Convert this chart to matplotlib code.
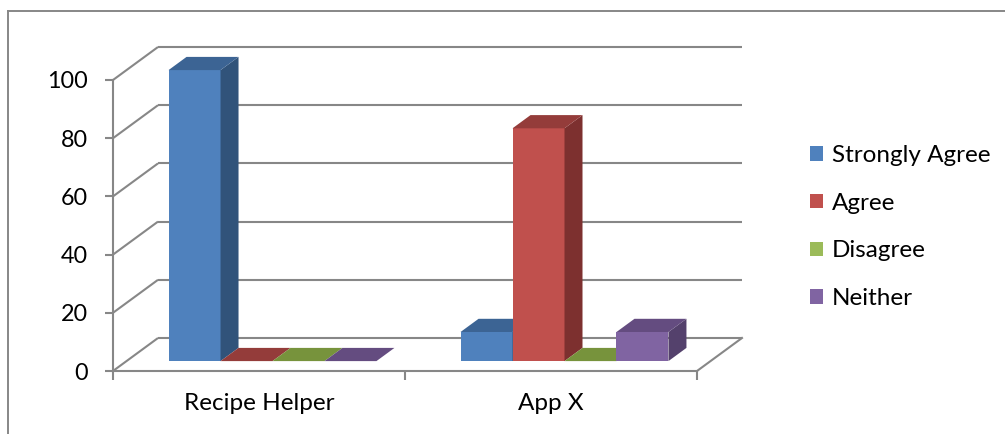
import matplotlib
matplotlib.use("Agg")
import matplotlib.pyplot as plt
from matplotlib.patches import Polygon, Patch
from matplotlib.lines import Line2D

categories = ["Recipe Helper", "App X"]
series = ["Strongly Agree", "Agree", "Disagree", "Neither"]
strongly_agree = [100, 10]
agree = [0, 80]
disagree = [0, 0]
neither = [0, 10]
values = [strongly_agree, agree, disagree, neither]
yticks = [0, 20, 40, 60, 80, 100]

# front / top / side shades per series
FRONT = ["#4F81BD", "#C0504D", "#9BBB59", "#8064A2"]
TOP = ["#3C6494", "#943C3A", "#77933C", "#644C80"]
SIDE = ["#31537A", "#7D302F", "#617A30", "#54416C"]
GRID = "#878787"

plt.rcParams["font.family"] = ["Lato", "DejaVu Sans"]
W, H = 1005, 434
fig = plt.figure(figsize=(W / 100, H / 100), dpi=100)
fig.patch.set_facecolor("white")
# front plane of the plot box, in pixels: x 113..697, y 371 (0) .. 80 (100)
ax = fig.add_axes([113 / W, (H - 371) / H, (697 - 113) / W, (371 - 80) / H])
ax.set_xlim(0, len(categories))
ax.set_ylim(0, 100)
ax.set_facecolor("none")

# oblique depth vector in data units (45 px right, 33 px up)
DX = 45 / 292
DY = 33 / 2.91
BW = 0.178          # bar width in category units
D0, D1 = 0.30, 0.70  # bar depth span, fraction of floor depth

def box(x0, h, i, z):
    fx, fy = D0 * DX, D0 * DY
    bx, by = D1 * DX, D1 * DY
    x1 = x0 + BW
    if h > 0:
        ax.add_patch(Polygon([(x0 + fx, fy), (x1 + fx, fy), (x1 + fx, h + fy), (x0 + fx, h + fy)],
                             closed=True, facecolor=FRONT[i], edgecolor="none", zorder=z, clip_on=False))
        ax.add_patch(Polygon([(x1 + fx, fy), (x1 + bx, by), (x1 + bx, h + by), (x1 + fx, h + fy)],
                             closed=True, facecolor=SIDE[i], edgecolor="none", zorder=z, clip_on=False))
    ax.add_patch(Polygon([(x0 + fx, h + fy), (x1 + fx, h + fy), (x1 + bx, h + by), (x0 + bx, h + by)],
                         closed=True, facecolor=TOP[i], edgecolor="none", zorder=z, clip_on=False))

# walls: left-wall diagonals, back-wall gridlines, floor edge
n = len(categories)
for v in yticks:
    ax.plot([0, DX], [v, v + DY], color=GRID, lw=1.5, zorder=1, clip_on=False, solid_capstyle="butt")
    ax.plot([DX, n + DX], [v + DY, v + DY], color=GRID, lw=1.5, zorder=1, clip_on=False, solid_capstyle="butt")
ax.plot([n, n + DX], [0, DY], color=GRID, lw=1.5, zorder=1, clip_on=False)

z = 3
for c in range(n):
    left = c + 0.5 - BW * len(series) / 2
    for i in range(len(series)):
        box(left + i * BW, values[i][c], i, z)
        z += 1

for s in ["top", "right"]:
    ax.spines[s].set_visible(False)
for s in ["left", "bottom"]:
    ax.spines[s].set_color(GRID)
    ax.spines[s].set_linewidth(1.5)
    ax.spines[s].set_zorder(2)

ax.set_yticks(yticks)
ax.tick_params(axis="y", length=5.8, width=1.5, color=GRID, labelsize=16.8, pad=12)
ax.set_xticks(range(n + 1))
ax.set_xticklabels([])
ax.set_xticks([c + 0.5 for c in range(n)], minor=True)
ax.set_xticklabels(categories, minor=True)
ax.tick_params(axis="x", which="major", length=6.5, width=1.5, color=GRID)
ax.tick_params(axis="x", which="minor", length=0, labelsize=17.5, pad=16)

handles = [Patch(facecolor=FRONT[i], edgecolor="none", label=series[i]) for i in range(len(series))]
fig.legend(handles=handles, loc="upper left", bbox_to_anchor=(810 / W, 1 - 145 / H), frameon=False,
           fontsize=17.5, handlelength=0.54, handleheight=0.54, handletextpad=0.37, labelspacing=1.1,
           borderpad=0, borderaxespad=0)

# chart-area border (top and left edges)
fig.add_artist(Line2D([8 / W, 1], [1 - 10.5 / H, 1 - 10.5 / H], color=GRID, lw=1.4, transform=fig.transFigure))
fig.add_artist(Line2D([8 / W, 8 / W], [1 - 10.5 / H, 0], color=GRID, lw=1.4, transform=fig.transFigure))

fig.savefig("out.png", dpi=100, facecolor="white")
